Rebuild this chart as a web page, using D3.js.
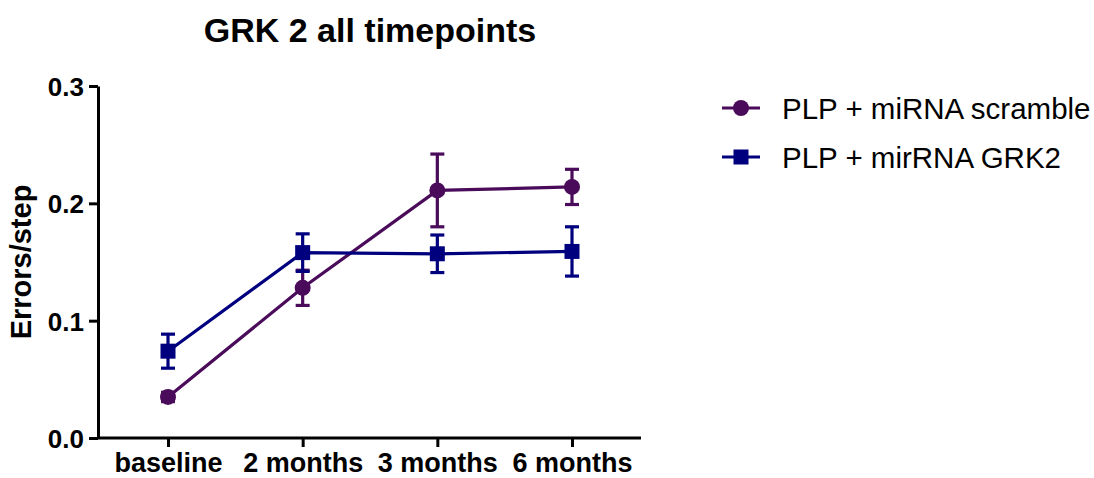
<!DOCTYPE html>
<html><head><meta charset="utf-8">
<script src="https://cdn.jsdelivr.net/npm/d3@7"></script>
<style>body{margin:0;background:#fff}svg{display:block;font-family:"Liberation Sans",Arial,sans-serif}</style>
</head><body><svg id="c" width="1094" height="478"></svg>
<script>
const categories = ["baseline", "2 months", "3 months", "6 months"];
const seriesNames = ["PLP + miRNA scramble", "PLP + mirRNA GRK2"];
const scrambleMean = [0.035, 0.128, 0.211, 0.214];
const scrambleErr  = [0.004, 0.015, 0.031, 0.015];
const grk2Mean = [0.074, 0.158, 0.157, 0.159];
const grk2Err  = [0.0145, 0.016, 0.016, 0.021];
const yTicks = [0.0, 0.1, 0.2, 0.3];

const colors = ["#4a0b5a", "#00007f"];
const series = [
  {name: seriesNames[0], mean: scrambleMean, err: scrambleErr, color: colors[0], shape: "circle"},
  {name: seriesNames[1], mean: grk2Mean, err: grk2Err, color: colors[1], shape: "square"}
];

const svg = d3.select("#c");
const x = d3.scalePoint().domain(categories).range([168, 572]);
const y = d3.scaleLinear().domain([0, 0.3]).range([438, 86]);

// axes
const yAxis = svg.append("g").attr("transform", "translate(98,0)")
  .call(d3.axisLeft(y).tickValues(yTicks).tickFormat(d3.format(".1f")).tickSize(9).tickSizeOuter(0));
yAxis.select(".domain").attr("stroke", "#000").attr("stroke-width", 3);
yAxis.selectAll(".tick line").attr("stroke-width", 3);
yAxis.selectAll("text").attr("font-size", 26).attr("font-weight", "bold").attr("fill", "#000").attr("x", -14).attr("dy", "0.36em");

const xAxis = svg.append("g").attr("transform", "translate(0,438)");
xAxis.append("line").attr("x1", 97).attr("x2", 641).attr("y1", 0).attr("y2", 0).attr("stroke", "#000").attr("stroke-width", 3);
const xa = xAxis.append("g").call(d3.axisBottom(x).tickSize(9).tickSizeOuter(0));
xa.select(".domain").remove();
xa.selectAll(".tick line").attr("stroke-width", 3);
xa.selectAll("text").attr("font-size", 27).attr("font-weight", "bold").attr("fill", "#000").attr("y", 34).attr("dy", 0);

// title
svg.append("text").attr("x", 370).attr("y", 42).attr("text-anchor", "middle")
  .attr("font-size", 34).attr("font-weight", "bold").text("GRK 2 all timepoints");
// y label
svg.append("text").attr("transform", "translate(31,262) rotate(-90)").attr("text-anchor", "middle")
  .attr("font-size", 29).attr("font-weight", "bold").text("Errors/step");

const line = d3.line().x((d, i) => x(categories[i])).y(d => y(d));

function marker(g, shape, cx, cy, color, s) {
  if (shape === "circle") g.append("circle").attr("cx", cx).attr("cy", cy).attr("r", s).attr("fill", color);
  else g.append("rect").attr("x", cx - s).attr("y", cy - s).attr("width", 2 * s).attr("height", 2 * s).attr("fill", color);
}

series.forEach(s => {
  const g = svg.append("g");
  g.append("path").datum(s.mean).attr("d", line).attr("fill", "none").attr("stroke", s.color).attr("stroke-width", 3.2);
  s.mean.forEach((m, i) => {
    const cx = x(categories[i]);
    const t = y(m + s.err[i]), b = y(m - s.err[i]);
    g.append("line").attr("x1", cx).attr("x2", cx).attr("y1", t).attr("y2", b).attr("stroke", s.color).attr("stroke-width", 3.2);
    [t, b].forEach(yy => g.append("line").attr("x1", cx - 7).attr("x2", cx + 7).attr("y1", yy).attr("y2", yy).attr("stroke", s.color).attr("stroke-width", 3.2));
    marker(g, s.shape, cx, y(m), s.color, s.shape === "circle" ? 8 : 7.5);
  });
});

// legend
series.forEach((s, i) => {
  const ly = 108 + i * 49;
  const g = svg.append("g");
  g.append("line").attr("x1", 722).attr("x2", 760).attr("y1", ly).attr("y2", ly).attr("stroke", s.color).attr("stroke-width", 3.2);
  marker(g, s.shape, 741, ly, s.color, s.shape === "circle" ? 8 : 7.5);
  g.append("text").attr("x", 782).attr("y", ly).attr("dy", "0.36em").attr("font-size", 29.5).attr("fill", "#000").text(s.name);
});
</script></body></html>
